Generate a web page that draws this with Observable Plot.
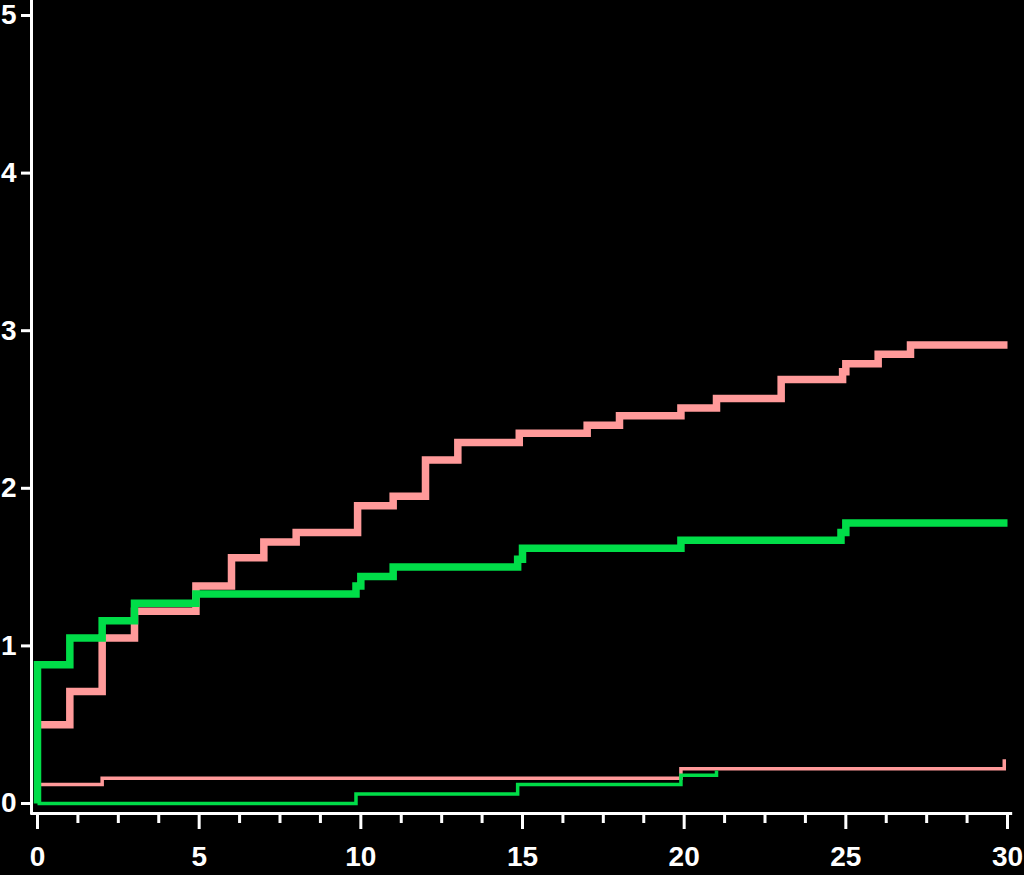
<!DOCTYPE html>
<html>
<head>
<meta charset="utf-8">
<script src="https://cdn.jsdelivr.net/npm/d3@7"></script>
<script src="https://cdn.jsdelivr.net/npm/@observablehq/plot@0.6"></script>
<style>
  html, body { margin: 0; padding: 0; background: #000; }
  #chart svg text { font-weight: bold; }
  #chart svg g[aria-label="line"] path { stroke-linejoin: miter; stroke-linecap: butt; stroke-miterlimit: 10; }
</style>
</head>
<body>
<div id="chart"></div>
<script>
// Upper pink (thick) step curve
const pinkThickT = [0, 1, 2, 3, 4.9, 6, 7, 8, 9.9, 11, 12, 13, 14.9, 17, 18, 19.9, 21, 23, 24.9, 25, 26, 27, 30];
const pinkThickV = [0.50, 0.71, 1.05, 1.22, 1.38, 1.56, 1.66, 1.72, 1.89, 1.95, 2.18, 2.29, 2.35, 2.40, 2.46, 2.51, 2.57, 2.69, 2.74, 2.79, 2.85, 2.91, 2.91];
// Upper green (thick) step curve
const greenThickT = [0, 0, 1, 2, 3, 4.9, 9.85, 10, 11, 14.85, 15, 19.9, 24.85, 25, 30];
const greenThickV = [0, 0.88, 1.05, 1.16, 1.27, 1.33, 1.38, 1.44, 1.50, 1.55, 1.62, 1.67, 1.72, 1.78, 1.78];
// Lower pink (thin) step curve
const pinkThinT = [0, 2, 19.9, 29.9, 29.9];
const pinkThinV = [0.12, 0.16, 0.22, 0.22, 0.28];
// Lower green (thin) step curve
const greenThinT = [0, 9.85, 14.85, 19.9, 21, 21];
const greenThinV = [0, 0.06, 0.12, 0.18, 0.18, 0.21];

const xMajorTicks = [0, 5, 10, 15, 20, 25, 30];
const xMinorTicks = d3.range(0, 30.001, 1.25).filter(v => v % 5 !== 0);
const yTicks = [0, 1, 2, 3, 4, 5];

const pink = "#ff9a9a";
const green = "#00dd48";

const toRows = (T, V) => T.map((t, i) => ({t, v: V[i]}));

const xDomain = [0, 30];
const yDomain = [0, 5];

const chart = Plot.plot({
  width: 1024,
  height: 875,
  marginLeft: 37,
  marginRight: 17,
  marginTop: 15,
  marginBottom: 72,
  style: {background: "#000", color: "#fff", fontFamily: "'Liberation Sans', Arial, sans-serif", overflow: "visible"},
  x: {domain: xDomain, axis: null, label: null},
  y: {domain: yDomain, axis: null, label: null},
  marks: [
    // axis lines (offset from the data area)
    Plot.ruleX([xDomain[0]], {y1: -0.073, y2: 5.1, dx: -6, stroke: "#fff", strokeWidth: 3, clip: false}),
    Plot.ruleY([yDomain[0]], {x1: -0.2, x2: 30.16, dy: 10, stroke: "#fff", strokeWidth: 3, clip: false}),
    Plot.axisY({ticks: yTicks, anchor: "left", label: null, dx: -6, tickSize: 10, tickPadding: 5, strokeWidth: 3,
      fontSize: 28, fontWeight: "bold", tickFormat: d => String(d)}),
    Plot.axisX({ticks: xMinorTicks, anchor: "bottom", label: null, dy: 10, tickSize: 10, strokeWidth: 3, tickFormat: () => ""}),
    Plot.axisX({ticks: xMajorTicks, anchor: "bottom", label: null, dy: 10, tickSize: 16, tickPadding: 17, strokeWidth: 3,
      fontSize: 28, fontWeight: "bold", tickFormat: d => String(d)}),
    // curves
    Plot.line(toRows(pinkThinT, pinkThinV), {x: "t", y: "v", curve: "step-after", stroke: pink, strokeWidth: 3.5}),
    Plot.line(toRows(greenThinT, greenThinV), {x: "t", y: "v", curve: "step-after", stroke: green, strokeWidth: 3.5}),
    Plot.line(toRows(pinkThickT, pinkThickV), {x: "t", y: "v", curve: "step-after", stroke: pink, strokeWidth: 7.5}),
    Plot.line(toRows(greenThickT, greenThickV), {x: "t", y: "v", curve: "step-after", stroke: green, strokeWidth: 7.5})
  ]
});
document.getElementById("chart").appendChild(chart);
</script>
</body>
</html>
